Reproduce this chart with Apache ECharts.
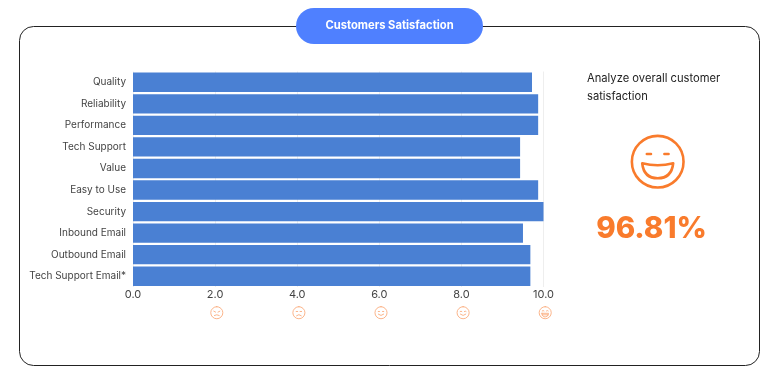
<!DOCTYPE html>
<html><head><meta charset="utf-8">
<style>html,body{margin:0;padding:0;background:#fff}#c{width:777px;height:383px}</style>
<script src="https://cdn.jsdelivr.net/npm/echarts@6/dist/echarts.min.js"></script>
</head><body><div id="c"></div>
<script>
const categories = ["Quality","Reliability","Performance","Tech Support","Value","Easy to Use","Security","Inbound Email","Outbound Email","Tech Support Email*"];
const scores = [9.72,9.87,9.87,9.43,9.43,9.87,10,9.5,9.68,9.68];
const tickValues = [2,4,6,8,10];
const titleText = "Customers Satisfaction";
const noteLines = ["Analyze overall customer","satisfaction"];
const overall = "96.81%";

const FONT = "Inter, Lato, sans-serif";
const ORANGE = "#f97b2c";
const RING = "M12 2a10 10 0 1 0 0.001 0Z ";
const faces = {
  2: RING+"M7 9.5l3 1.5M17 9.5l-3 1.5M8 16.5q4 -2.5 8 0",
  4: RING+"M7.5 10h2.5M14 10h2.5M8 17q4 -4 8 0",
  6: RING+"M7.5 10h2M14.5 10h2M7.5 14.5q4.5 4.5 9 0",
  8: RING+"M7 10q1.5 -1.5 3 0M14 10q1.5 -1.5 3 0M7.5 14.5q4.5 4.5 9 0",
  10: RING+"M7 9q1.5 -1.5 3 0M14 9q1.5 -1.5 3 0M6.5 13h11q-.5 6 -5.5 6t-5.5 -6ZM7 15.5h10"
};
const bigFace = "M12 2a10 10 0 1 0 0.001 0Z M7.8 9h1.6M14.6 9h1.6M6 12.6q6 1.5 12 0q-.6 5.8 -6 5.8t-6 -5.8Z";
Object.keys(faces).forEach(k=>echarts.graphic.registerShape("face"+k, echarts.graphic.extendPath(faces[k],{})));
echarts.graphic.registerShape("bigFace", echarts.graphic.extendPath(bigFace,{}));

const chart = echarts.init(document.getElementById("c"), null, {renderer:"canvas"});
function faceAt(type,cx,cy,size,stroke,lw){
  const s=size/24;
  return {type:"group",x:cx-12*s,y:cy-12*s,scaleX:s,scaleY:s,children:[
    {type:type,style:{fill:"none",stroke:stroke,lineWidth:lw/s,lineCap:"round",lineJoin:"round"}}
  ]};
}
function baseGraphic(){
  return [
    {type:"rect",z:-1,shape:{x:19.5,y:26.5,width:740,height:339,r:14},style:{fill:"#fff",stroke:"#222",lineWidth:1}},
    {type:"rect",shape:{x:296,y:8,width:187,height:36,r:18},style:{fill:"#4f80ff"}},
    {type:"text",x:389.5,y:25.5,style:{text:titleText,fill:"#fff",font:"700 11.2px "+FONT,textAlign:"center",textVerticalAlign:"middle"}},
    {type:"text",x:587,y:79,style:{text:noteLines[0],fill:"#222",font:"400 11.2px "+FONT,textVerticalAlign:"middle"}},
    {type:"text",x:587,y:97,style:{text:noteLines[1],fill:"#222",font:"400 11.2px "+FONT,textVerticalAlign:"middle"}},
    faceAt("bigFace",657.7,161.7,62,ORANGE,2.6),
    {type:"text",x:651.5,y:229.5,style:{text:overall,fill:ORANGE,font:"800 29.5px "+FONT,textAlign:"center",textVerticalAlign:"middle"}}
  ];
}
chart.setOption({
  animation:false,
  grid:{left:133,right:233.5,top:71.5,bottom:96},
  xAxis:{type:"value",min:0,max:10,interval:2,
    axisLine:{show:false},axisTick:{show:false},
    splitLine:{show:true,lineStyle:{color:"#eeeeee",width:1}},
    axisLabel:{color:"#444",fontFamily:FONT,fontSize:11,margin:2,formatter:v=>v.toFixed(1)}},
  yAxis:{type:"category",inverse:true,data:categories,
    axisLine:{show:false},axisTick:{show:false},splitLine:{show:false},
    axisLabel:{color:"#444",fontFamily:FONT,fontSize:10,margin:7}},
  series:[{type:"bar",data:scores,barWidth:"90%",itemStyle:{color:"#4a80d3"}}],
  graphic:baseGraphic()
});
const icons = tickValues.map(v=>{
  const px = chart.convertToPixel({xAxisIndex:0},v);
  return faceAt("face"+v,px+1.7,312.7,14.5,"#fbad7e",0.9);
});
chart.setOption({graphic:baseGraphic().concat(icons)});
</script></body></html>
